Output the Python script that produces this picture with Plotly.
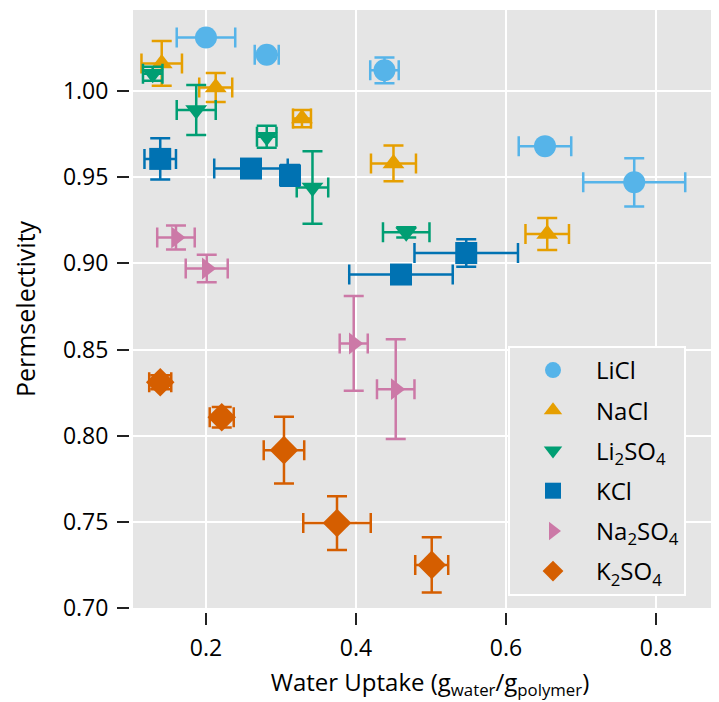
import plotly.graph_objects as go

# ---- data ----
series_names = ["LiCl", "NaCl", "Li<sub>2</sub>SO<sub>4</sub>", "KCl",
                "Na<sub>2</sub>SO<sub>4</sub>", "K<sub>2</sub>SO<sub>4</sub>"]

licl_x = [0.200, 0.281, 0.438, 0.652, 0.771]
licl_y = [1.031, 1.021, 1.012, 0.968, 0.947]
licl_xerr = [0.039, 0.016, 0.019, 0.035, 0.068]
licl_yerr = [0.002, 0.002, 0.0075, 0.002, 0.014]

nacl_x = [0.141, 0.213, 0.328, 0.450, 0.655]
nacl_y = [1.016, 1.002, 0.984, 0.958, 0.917]
nacl_xerr = [0.027, 0.022, 0.012, 0.030, 0.029]
nacl_yerr = [0.013, 0.0084, 0.005, 0.0104, 0.0093]

li2so4_x = [0.129, 0.187, 0.281, 0.342, 0.467]
li2so4_y = [1.010, 0.989, 0.9734, 0.944, 0.918]
li2so4_xerr = [0.013, 0.026, 0.013, 0.021, 0.031]
li2so4_yerr = [0.004, 0.0145, 0.0064, 0.021, 0.003]

kcl_x = [0.139, 0.260, 0.312, 0.460, 0.547]
kcl_y = [0.9606, 0.955, 0.951, 0.8935, 0.906]
kcl_xerr = [0.021, 0.049, 0.012, 0.069, 0.069]
kcl_yerr = [0.012, 0.004, 0.006, 0.004, 0.008]

na2so4_x = [0.160, 0.201, 0.397, 0.453]
na2so4_y = [0.915, 0.897, 0.8535, 0.827]
na2so4_xerr = [0.025, 0.028, 0.0187, 0.025]
na2so4_yerr = [0.007, 0.008, 0.0275, 0.029]

k2so4_x = [0.139, 0.221, 0.304, 0.3747, 0.501]
k2so4_y = [0.831, 0.8107, 0.7916, 0.7493, 0.725]
k2so4_xerr = [0.0147, 0.016, 0.027, 0.045, 0.022]
k2so4_yerr = [0.004, 0.006, 0.0194, 0.0156, 0.016]

x_ticks = [0.2, 0.4, 0.6, 0.8]
x_tick_labels = ["0.2", "0.4", "0.6", "0.8"]
y_ticks = [0.70, 0.75, 0.80, 0.85, 0.90, 0.95, 1.00]
y_tick_labels = ["0.70", "0.75", "0.80", "0.85", "0.90", "0.95", "1.00"]

# ---- styling ----
colors = ["#56B4E9", "#E69F00", "#009E73", "#0072B2", "#CC79A7", "#D55E00"]
symbols = ["circle", "triangle-up", "triangle-down", "square", "triangle-right", "diamond"]
sizes = [22, 19, 19, 22, 19, 22]

datasets = [
    (licl_x, licl_y, licl_xerr, licl_yerr),
    (nacl_x, nacl_y, nacl_xerr, nacl_yerr),
    (li2so4_x, li2so4_y, li2so4_xerr, li2so4_yerr),
    (kcl_x, kcl_y, kcl_xerr, kcl_yerr),
    (na2so4_x, na2so4_y, na2so4_xerr, na2so4_yerr),
    (k2so4_x, k2so4_y, k2so4_xerr, k2so4_yerr),
]

FONT = "Open Sans"

fig = go.Figure()
for i, (xs, ys, xe, ye) in enumerate(datasets):
    fig.add_trace(go.Scatter(
        x=xs, y=ys, mode="markers", name=series_names[i],
        legendgroup=f"g{i}",
        marker=dict(symbol=symbols[i], size=sizes[i], color=colors[i],
                    line=dict(width=0)),
        error_x=dict(type="data", array=xe, color=colors[i], thickness=2.5, width=10),
        error_y=dict(type="data", array=ye, color=colors[i], thickness=2.5, width=10),
    ))

W, H = 719, 702
ml, mr, mt, mb = 121, 0, 2, 98
pw = W - ml - mr
ph = H - mt - mb
gap = 4

fig.update_layout(
    width=W, height=H,
    margin=dict(l=ml, r=mr, t=mt, b=mb, autoexpand=False),
    paper_bgcolor="white",
    plot_bgcolor="#E5E5E5",
    font=dict(family=FONT, size=22, color="black"),
    showlegend=True,
    legend=dict(
        x=(500 - ml) / pw, y=(H - mb - 338) / ph, xanchor="left", yanchor="top",
        bgcolor="#E5E5E5", bordercolor="white", borderwidth=2,
        font=dict(family=FONT, size=24, color="black"),
        tracegroupgap=6, itemwidth=76, entrywidth=190, entrywidthmode="pixels",
    ),
    xaxis=dict(
        domain=[gap / pw, 1], anchor="free", position=0, automargin=False,
        range=[0.1027, 0.8947],
        tickvals=x_ticks, ticktext=x_tick_labels,
        ticks="outside", ticklen=12, tickwidth=2, tickcolor="#222",
        ticklabelstandoff=3,
        showgrid=True, gridcolor="white", gridwidth=2,
        zeroline=False, showline=False,
        tickfont=dict(family=FONT, size=23, color="black"),
        title=dict(text="Water Uptake (g<sub>water</sub>/g<sub>polymer</sub>)",
                   font=dict(family=FONT, size=24, color="black"), standoff=12),
    ),
    yaxis=dict(
        domain=[gap / ph, 1], anchor="free", position=0, automargin=False,
        range=[0.7, 1.047],
        tickvals=y_ticks, ticktext=y_tick_labels,
        ticks="outside", ticklen=12, tickwidth=2, tickcolor="#222",
        ticklabelstandoff=4,
        showgrid=True, gridcolor="white", gridwidth=2,
        zeroline=False, showline=False,
        tickfont=dict(family=FONT, size=23, color="black"),
        title=dict(text="Permselectivity",
                   font=dict(family=FONT, size=25, color="black"), standoff=30),
    ),
)

fig.write_html("out.html")
